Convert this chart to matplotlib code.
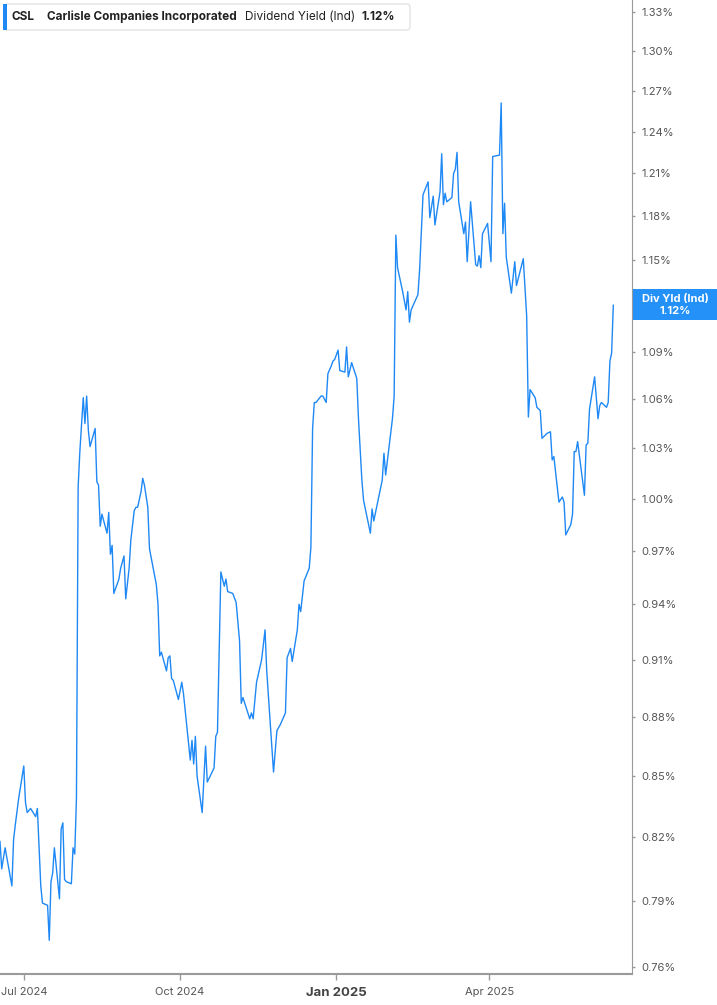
import matplotlib
matplotlib.use("Agg")
import matplotlib.pyplot as plt
from matplotlib.patches import FancyBboxPatch, Rectangle
from matplotlib.transforms import IdentityTransform
import pandas as pd

plt.rcParams["font.family"] = ["Inter", "DejaVu Sans"]

# dividend yield (indicated), in percent
dates = [
    "2024-06-17", "2024-06-18", "2024-06-20", "2024-06-24", "2024-06-25", "2024-06-26", "2024-06-28",
    "2024-07-01", "2024-07-02", "2024-07-03", "2024-07-05", "2024-07-08", "2024-07-09", "2024-07-11",
    "2024-07-12", "2024-07-15", "2024-07-16", "2024-07-17", "2024-07-18", "2024-07-19", "2024-07-22",
    "2024-07-23", "2024-07-24", "2024-07-25", "2024-07-26", "2024-07-29", "2024-07-30", "2024-07-31",
    "2024-08-01", "2024-08-02", "2024-08-03", "2024-08-05", "2024-08-06", "2024-08-07", "2024-08-08",
    "2024-08-09", "2024-08-12", "2024-08-13", "2024-08-14", "2024-08-15", "2024-08-16", "2024-08-19",
    "2024-08-20", "2024-08-21", "2024-08-22", "2024-08-23", "2024-08-26", "2024-08-27", "2024-08-29",
    "2024-08-30", "2024-09-01", "2024-09-02", "2024-09-04", "2024-09-05", "2024-09-06", "2024-09-08",
    "2024-09-09", "2024-09-10", "2024-09-12", "2024-09-13", "2024-09-17", "2024-09-18", "2024-09-19",
    "2024-09-20", "2024-09-23", "2024-09-24", "2024-09-25", "2024-09-26", "2024-09-27", "2024-09-30",
    "2024-10-02", "2024-10-03", "2024-10-05", "2024-10-07", "2024-10-08", "2024-10-09", "2024-10-10",
    "2024-10-11", "2024-10-14", "2024-10-16", "2024-10-17", "2024-10-21", "2024-10-22", "2024-10-23",
    "2024-10-25", "2024-10-27", "2024-10-28", "2024-10-29", "2024-11-01", "2024-11-03", "2024-11-05",
    "2024-11-06", "2024-11-07", "2024-11-11", "2024-11-12", "2024-11-13", "2024-11-15", "2024-11-18",
    "2024-11-20", "2024-11-21", "2024-11-25", "2024-11-27", "2024-11-29", "2024-12-02", "2024-12-03",
    "2024-12-05", "2024-12-06", "2024-12-09", "2024-12-10", "2024-12-11", "2024-12-13", "2024-12-16",
    "2024-12-17", "2024-12-18", "2024-12-19", "2024-12-20", "2024-12-23", "2024-12-24", "2024-12-26",
    "2024-12-27", "2024-12-29", "2024-12-30", "2024-12-31", "2025-01-02", "2025-01-03", "2025-01-06",
    "2025-01-07", "2025-01-08", "2025-01-10", "2025-01-13", "2025-01-14", "2025-01-16", "2025-01-17",
    "2025-01-21", "2025-01-22", "2025-01-23", "2025-01-28", "2025-01-29", "2025-01-30", "2025-02-01",
    "2025-02-03", "2025-02-04", "2025-02-05", "2025-02-06", "2025-02-09", "2025-02-11", "2025-02-12",
    "2025-02-13", "2025-02-14", "2025-02-18", "2025-02-19", "2025-02-21", "2025-02-24", "2025-02-25",
    "2025-02-27", "2025-02-28", "2025-03-03", "2025-03-04", "2025-03-05", "2025-03-06", "2025-03-07",
    "2025-03-10", "2025-03-11", "2025-03-12", "2025-03-13", "2025-03-14", "2025-03-17", "2025-03-18",
    "2025-03-19", "2025-03-21", "2025-03-24", "2025-03-25", "2025-03-26", "2025-03-27", "2025-03-28",
    "2025-03-31", "2025-04-02", "2025-04-03", "2025-04-07", "2025-04-08", "2025-04-09", "2025-04-10",
    "2025-04-11", "2025-04-14", "2025-04-16", "2025-04-17", "2025-04-21", "2025-04-23", "2025-04-24",
    "2025-04-25", "2025-04-28", "2025-04-29", "2025-05-01", "2025-05-02", "2025-05-05", "2025-05-07",
    "2025-05-08", "2025-05-09", "2025-05-12", "2025-05-14", "2025-05-15", "2025-05-16", "2025-05-19",
    "2025-05-20", "2025-05-21", "2025-05-22", "2025-05-23", "2025-05-27", "2025-05-28", "2025-05-29",
    "2025-05-30", "2025-06-02", "2025-06-04", "2025-06-05", "2025-06-06", "2025-06-09", "2025-06-10",
    "2025-06-11", "2025-06-12", "2025-06-13",
]
yields = [
    0.818, 0.805, 0.815, 0.797, 0.819, 0.826, 0.839,
    0.855, 0.837, 0.832, 0.834, 0.830, 0.834, 0.797,
    0.789, 0.788, 0.772, 0.799, 0.803, 0.815, 0.791,
    0.824, 0.827, 0.800, 0.799, 0.798, 0.815, 0.812,
    0.839, 1.007, 1.028, 1.061, 1.045, 1.062, 1.041,
    1.031, 1.042, 1.010, 1.008, 0.984, 0.991, 0.980,
    0.992, 0.968, 0.973, 0.946, 0.954, 0.960, 0.967,
    0.943, 0.960, 0.976, 0.993, 0.995, 0.995, 1.004,
    1.012, 1.008, 0.995, 0.971, 0.951, 0.940, 0.912,
    0.914, 0.904, 0.911, 0.912, 0.900, 0.899, 0.889,
    0.898, 0.892, 0.875, 0.858, 0.868, 0.856, 0.870,
    0.850, 0.832, 0.865, 0.847, 0.854, 0.870, 0.872,
    0.958, 0.950, 0.954, 0.947, 0.946, 0.941, 0.920,
    0.887, 0.890, 0.879, 0.882, 0.879, 0.898, 0.910,
    0.926, 0.904, 0.852, 0.873, 0.876, 0.882, 0.911,
    0.916, 0.909, 0.926, 0.940, 0.936, 0.953, 0.960,
    0.972, 1.042, 1.058, 1.058, 1.062, 1.062, 1.058,
    1.076, 1.081, 1.084, 1.085, 1.091, 1.078, 1.077,
    1.093, 1.074, 1.083, 1.073, 1.048, 1.011, 0.999,
    0.980, 0.994, 0.987, 1.011, 1.027, 1.014, 1.031,
    1.048, 1.062, 1.167, 1.145, 1.129, 1.117, 1.129,
    1.109, 1.117, 1.127, 1.144, 1.195, 1.204, 1.179,
    1.194, 1.174, 1.197, 1.224, 1.188, 1.196, 1.190,
    1.193, 1.210, 1.213, 1.225, 1.190, 1.168, 1.176,
    1.149, 1.190, 1.147, 1.146, 1.153, 1.145, 1.168,
    1.175, 1.149, 1.222, 1.223, 1.261, 1.168, 1.189,
    1.152, 1.128, 1.149, 1.133, 1.151, 1.113, 1.049,
    1.066, 1.061, 1.055, 1.053, 1.036, 1.039, 1.040,
    1.023, 1.025, 0.998, 1.001, 0.998, 0.979, 0.985,
    0.991, 1.028, 1.028, 1.034, 1.002, 1.032, 1.033,
    1.054, 1.074, 1.048, 1.056, 1.058, 1.055, 1.058,
    1.084, 1.089, 1.120,
]

ytick_vals = [0.76, 0.79, 0.82, 0.85, 0.88, 0.91, 0.94, 0.97, 1.00, 1.03,
              1.06, 1.09, 1.12, 1.15, 1.18, 1.21, 1.24, 1.27, 1.30, 1.33]
xtick_dates = ["2024-07-01", "2024-10-01", "2025-01-01", "2025-04-01"]
xtick_labels = ["Jul 2024", "Oct 2024", "Jan 2025", "Apr 2025"]

ticker = "CSL"
company = "Carlisle Companies Incorporated"
metric = "Dividend Yield (Ind)"
last_label = "Div Yld (Ind)"

line_blue = "#1e88f5"
axis_grey = "#9a9a9a"
text_grey = "#555555"

W, H = 717, 1005
fig = plt.figure(figsize=(W / 100, H / 100), dpi=100)
ax = fig.add_axes([0, 31 / H, 632 / W, 974 / H])

x = pd.to_datetime(dates)
ax.plot(x, yields, color=line_blue, lw=1.0)

ax.set_yscale("log")
ax.set_ylim(0.7569, 1.3394)
ax.set_xlim(pd.Timestamp("2024-06-17"), pd.Timestamp("2025-06-24"))

# the last-value tag sits on top of the tick label at the last value
last_txt = f"{yields[-1]:.2f}%"
ax.yaxis.tick_right()
ax.set_yticks(ytick_vals)
ax.set_yticklabels(["" if f"{v:.2f}%" == last_txt else f"{v:.2f}%" for v in ytick_vals])
ax.yaxis.set_minor_locator(matplotlib.ticker.NullLocator())
ax.tick_params(axis="y", which="major", direction="out", length=2, width=1,
               color=axis_grey, labelcolor=text_grey, labelsize=8, pad=5)

ax.set_xticks(pd.to_datetime(xtick_dates))
ax.set_xticklabels(xtick_labels)
ax.tick_params(axis="x", direction="out", length=4, width=1,
               color=axis_grey, labelcolor=text_grey, labelsize=8, pad=5)
for lbl in ax.get_xticklabels():
    if lbl.get_text() == "Jan 2025":
        lbl.set_fontweight("bold")
        lbl.set_fontsize(9.5)
        lbl.set_color("#444444")

for side in ["left", "top"]:
    ax.spines[side].set_visible(False)
ax.spines["right"].set_color(axis_grey)
ax.spines["bottom"].set_color(axis_grey)
ax.spines["bottom"].set_linewidth(1.5)

# header box (pixel coordinates, origin bottom-left)
def py(y):
    return H - y

hdr = FancyBboxPatch((4, py(30)), 406, 26, boxstyle="round,pad=0,rounding_size=3",
                     transform=IdentityTransform(), facecolor="white",
                     edgecolor="#e3e3e3", lw=1, zorder=5)
fig.patches.append(hdr)
fig.patches.append(Rectangle((3, py(30)), 4, 26, transform=IdentityTransform(),
                             facecolor=line_blue, edgecolor="none", zorder=6))
ty = py(17) / H
fig.text(12 / W, ty, ticker, fontsize=8.5, fontweight="bold", color="#222222", va="center", zorder=7)
fig.text(47 / W, ty, company, fontsize=8.5, fontweight="bold", color="#222222", va="center", zorder=7)
fig.text(245 / W, ty, metric, fontsize=8.5, color="#222222", va="center", zorder=7)
fig.text(362 / W, ty, last_txt, fontsize=8.5, fontweight="bold", color="#222222",
         va="center", zorder=7)

# last value tag on the right axis
fig.patches.append(Rectangle((633, py(320)), 84, 31, transform=IdentityTransform(),
                             facecolor="#2391f7", edgecolor="none", zorder=5))
fig.text(675 / W, py(299) / H, last_label, fontsize=8, fontweight="bold", color="white",
         ha="center", va="center", zorder=7)
fig.text(675 / W, py(311) / H, last_txt, fontsize=8, fontweight="bold", color="white",
         ha="center", va="center", zorder=7)

fig.savefig("out.png", dpi=100)
